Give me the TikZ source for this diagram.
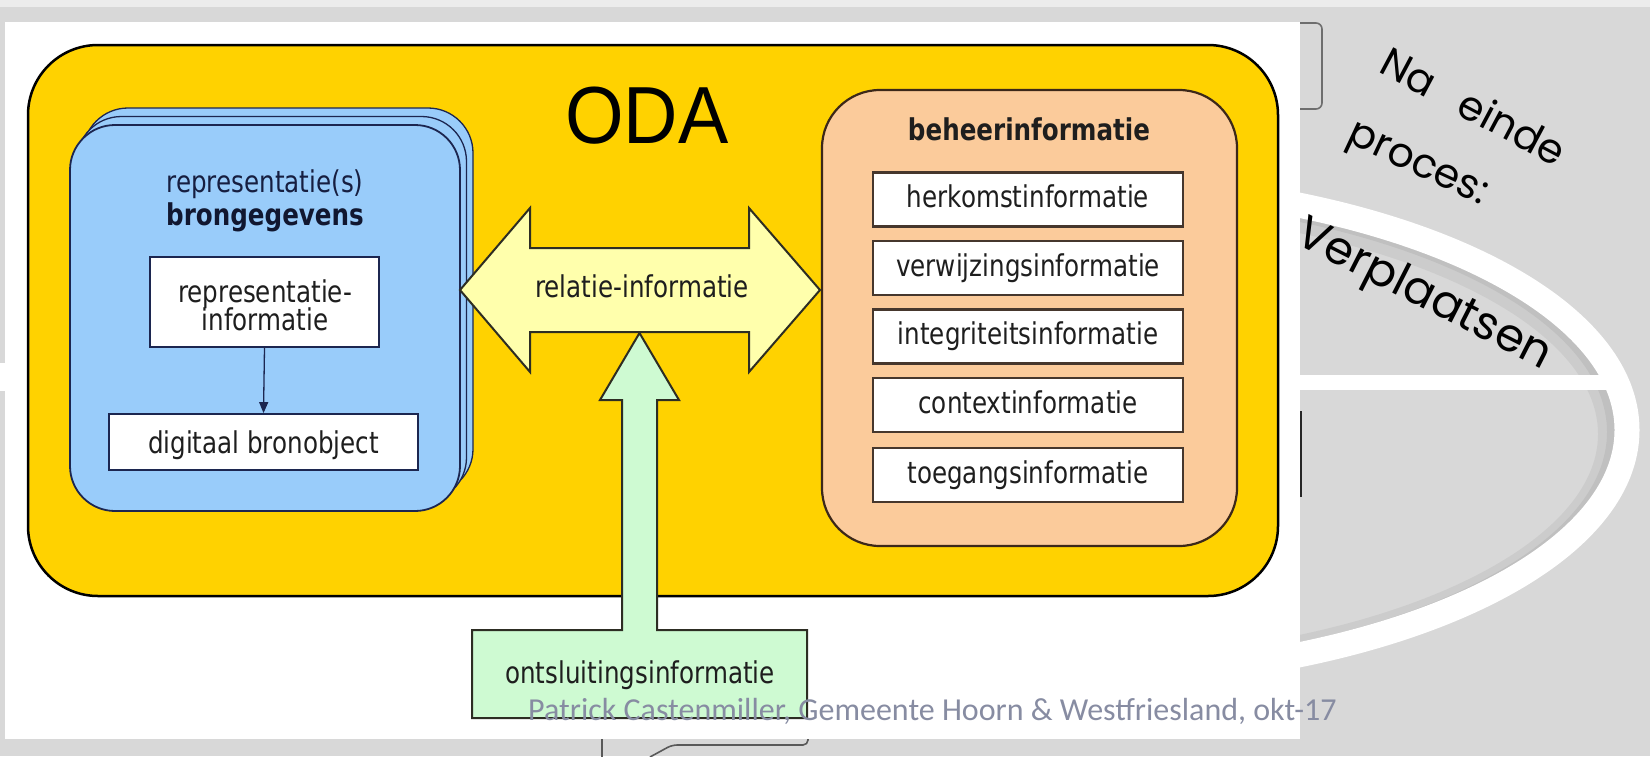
\documentclass[tikz,border=0pt]{standalone}
\usepackage{fontspec}
\setmainfont{DejaVu Sans}[FakeStretch=0.82]
\newfontfamily\odafont{Liberation Sans}[FakeStretch=0.93]
\newfontfamily\wmfont{Carlito}
\newfontfamily\gothfont{Poppins}
\usetikzlibrary{arrows.meta}
\definecolor{bggrey}{RGB}{216,216,216}
\definecolor{topgrey}{RGB}{236,236,236}
\definecolor{odayellow}{RGB}{255,210,0}
\definecolor{lightblue}{RGB}{153,204,250}
\definecolor{navy}{RGB}{28,38,80}
\definecolor{peach}{RGB}{251,203,155}
\definecolor{brownline}{RGB}{60,40,25}
\definecolor{boxline}{RGB}{70,55,45}
\definecolor{paleyellow}{RGB}{255,255,172}
\definecolor{mint}{RGB}{206,250,210}
\definecolor{arrowline}{RGB}{45,45,35}
\definecolor{wmgrey}{RGB}{135,140,162}
\definecolor{txtdark}{RGB}{30,30,30}
\definecolor{outlinegrey}{RGB}{110,110,110}
\newcommand\lblsize{\fontsize{30}{30}\selectfont}
\tikzset{
  lbl/.style={inner sep=0, font=\lblsize, text=txtdark},
  lblb/.style={inner sep=0, font=\lblsize\bfseries, text=txtdark},
  odabox/.style={draw=black, line width=2.5, fill=odayellow, rounded corners=70, inner sep=0},
  bluebox/.style={draw=navy, line width=1.8, fill=lightblue, rounded corners=45, inner sep=0, minimum width=390, minimum height=386},
  blueback/.style={bluebox, line width=1.3},
  whitebox/.style={draw=navy, line width=1.8, fill=white, inner sep=0},
  peachbox/.style={draw=brownline, line width=2.2, fill=peach, rounded corners=58, inner sep=0},
  infobox/.style={draw=boxline, line width=2.6, fill=white, inner sep=0, minimum width=310, minimum height=54, font=\lblsize, text=txtdark, text height=22pt, text depth=6pt},
  arrowshape/.style={draw=arrowline, line width=2, line join=miter},
  gothic/.style={inner sep=0, font=\gothfont\fontsize{41}{41}\selectfont, text=black},
  gothicbig/.style={inner sep=0, font=\gothfont\fontsize{46}{46}\selectfont, text=black},
}
\begin{document}
\begin{tikzpicture}[x=1pt,y=-1pt]
\useasboundingbox (0,0) rectangle (1650,756);
% slide background
\fill[bggrey] (0,0) rectangle (1650,756);
\fill[topgrey] (0,0) rectangle (1650,7);
\draw[black, line width=18, opacity=0.05] (1057,434) ellipse [x radius=550, y radius=234];
\draw[black, line width=8, opacity=0.06] (1058,432) ellipse [x radius=553, y radius=238];
\draw[white, line width=25] (1059,430) ellipse [x radius=568, y radius=248];
\fill[white] (0,375) rectangle (1616,390);
\fill[white] (0,363) rectangle (8,391);
% slide texts
\node[gothic, rotate=-28] (na) at (1474,106) {Na\hspace{0.5em} einde};
\node[gothic, rotate=-25] (proc) at (1416,168) {proces:};
\node[gothicbig, rotate=-27] (verp) at (1423,296) {Verplaatsen};
% partly hidden slide shapes
\draw[outlinegrey, line width=1.6, rounded corners=6] (1150,23) rectangle (1322,109);
\draw[black!85, line width=4] (1150,413) rectangle (1300,495);
\draw[black!65, line width=1.6] (602,730) -- (602,757);
\draw[black!65, line width=1.6, rounded corners=5] (650,757) -- (672,745) -- (808,745) -- (808,720);
% picture panel
\fill[white] (5,22) rectangle (1300,739);
% ODA
\node[odabox, minimum width=1250, minimum height=551] (oda) at (653,320.5) {};
\node[inner sep=0, font=\odafont\fontsize{81}{81}\selectfont, anchor=base] (odat) at (647,143) {ODA};
% representaties (stack)
\node[blueback] (b3) at (278,301) {};
\node[blueback] (b2) at (271.5,309.5) {};
\node[bluebox] (b1) at (265,318) {};
\node[lbl, text=navy!80!black, anchor=base] (rs) at (265,192) {representatie(s)};
\node[lblb, text=navy!60!black, anchor=base] (bg) at (265,225) {brongegevens};
\node[whitebox, minimum width=229, minimum height=90] (rep) at (264.5,302) {};
\node[lbl, anchor=base] (rep1) at (265,302) {representatie-};
\node[lbl, anchor=base] (rep2) at (265,330) {informatie};
\node[whitebox, minimum width=309, minimum height=56, font=\lblsize, text=txtdark, text height=22pt, text depth=0pt] (digi) at (263.5,442) {digitaal bronobject};
\draw[navy, line width=1.3, -{Triangle[length=11pt, width=9pt]}] (rep.south) -- (digi.north);
% beheerinformatie
\node[peachbox, minimum width=415, minimum height=456] (beh) at (1029.5,318) {};
\node[lblb, anchor=base] (beht) at (1029,140) {beheerinformatie};
\node[infobox] (herk) at (1028,199.5) {herkomstinformatie};
\node[infobox] (verw) at (1028,268) {verwijzingsinformatie};
\node[infobox] (integ) at (1028,336.5) {integriteitsinformatie};
\node[infobox] (cont) at (1028,405) {contextinformatie};
\node[infobox] (toeg) at (1028,475) {toegangsinformatie};
% relatie-informatie double arrow
\draw[arrowshape, fill=paleyellow] (460,290) -- (530,208) -- (530,248) -- (749,248) -- (749,208) -- (820,290) -- (749,372) -- (749,332) -- (530,332) -- (530,372) -- cycle;
\node[lbl, anchor=base] (rel) at (642,297) {relatie-informatie};
% ontsluitingsinformatie
\draw[arrowshape, fill=mint] (472,630) -- (622,630) -- (622,400) -- (600,400) -- (639.5,333) -- (679,400) -- (657,400) -- (657,630) -- (807,630) -- (807,718) -- (472,718) -- cycle;
\node[lbl, anchor=base] (ont) at (640,683) {ontsluitingsinformatie};
% footer
\node[inner sep=0, anchor=base west, font=\wmfont\fontsize{32}{32}\selectfont, text=wmgrey] (wm) at (528,720) {Patrick Castenmiller, Gemeente Hoorn \& Westfriesland, okt-17};
\end{tikzpicture}
\end{document}
